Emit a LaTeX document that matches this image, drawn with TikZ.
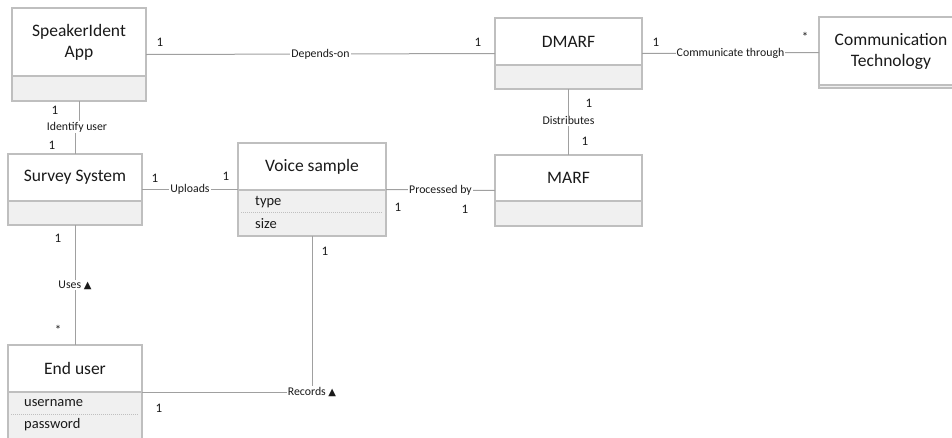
\documentclass[tikz,border=0pt]{standalone}
\usepackage{fontspec}
\setmainfont{Carlito}
\newfontfamily\symfont{DejaVu Sans}
\definecolor{boxc}{HTML}{BFBFBF}
\definecolor{compc}{HTML}{F0F0F0}
\definecolor{linec}{HTML}{A0A0A0}
\definecolor{txtc}{HTML}{1A1A1A}
\tikzset{
  umlbox/.style={draw=boxc, line width=1.2pt, fill=white, inner sep=0pt, outer sep=0pt},
  comp/.style={draw=boxc, line width=1.2pt, fill=compc},
  sep/.style={draw=boxc, line width=0.6pt, dash pattern=on 1pt off 1pt},
  title/.style={text=txtc, font=\fontsize{17.5}{21}\selectfont, align=center, inner sep=0pt},
  attr/.style={text=txtc, font=\fontsize{14.5}{15}\selectfont, anchor=west, inner sep=0pt},
  conn/.style={draw=linec, line width=1pt},
  lab/.style={text=txtc, font=\fontsize{11.8}{13}\selectfont, fill=white, inner sep=1pt},
  mult/.style={text=txtc, font=\fontsize{13}{14}\selectfont, inner sep=0pt},
}
\newcommand\tri{{\symfont\fontsize{10}{10}\selectfont ▲}}
\begin{document}
\begin{tikzpicture}[x=1pt,y=-1pt]
\useasboundingbox (0,0) rectangle (952,437);
\begin{scope}
\clip (0,0) rectangle (952,437);
% boxes
\node[umlbox, minimum width=134pt, minimum height=93pt] (sia) at (79,54.5) {};
\draw[comp] (12,76) rectangle (146,101);
\node[title] (siat) at (79,42.5) {SpeakerIdent\\App};

\node[umlbox, minimum width=147pt, minimum height=71pt] (dmarf) at (568.5,53.5) {};
\draw[comp] (495,65) rectangle (642,89);
\node[title] (dmarft) at (568.5,42) {DMARF};

\node[umlbox, minimum width=144pt, minimum height=71pt] (ct) at (891,52.5) {};
\draw[comp] (819,85) rectangle (963,88);
\node[title] (ctt) at (891,51.5) {Communication\\Technology};

\node[umlbox, minimum width=134pt, minimum height=71pt] (ss) at (75,189.5) {};
\draw[comp] (8,201) rectangle (142,225);
\node[title] (sst) at (75,177) {Survey System};

\node[umlbox, minimum width=148pt, minimum height=93pt] (vs) at (312,189.5) {};
\draw[comp] (238,190) rectangle (386,236);
\draw[sep] (241,212) -- (383,212);
\node[title] (vst) at (312,166.5) {Voice sample};
\node[attr] (vstype) at (255,202.5) {type};
\node[attr] (vssize) at (255,223.5) {size};

\node[umlbox, minimum width=147pt, minimum height=71pt] (marf) at (568.5,190.5) {};
\draw[comp] (495,201) rectangle (642,226);
\node[title] (marft) at (568.5,178) {MARF};

\node[umlbox, minimum width=134pt, minimum height=94pt] (eu) at (75,392) {};
\draw[comp] (8,392) rectangle (142,439);
\draw[sep] (11,414) -- (139,414);
\node[title] (eut) at (75,368) {End user};
\node[attr] (euu) at (24,403.5) {username};
\node[attr] (eup) at (24,424.5) {password};
\end{scope}

% connectors
\draw[conn] (sia.east) -- node[lab] {Depends-on} (dmarf.west);
\node[mult] at (160,42) {1};
\node[mult] at (478,42) {1};

\draw[conn] (dmarf.east) -- node[lab] {Communicate through} (ct.west);
\node[mult] at (656,42) {1};
\node[mult] at (805,37) {*};

\draw[conn] (sia.south) -- ++(0,26) coordinate (iu) -| (ss.north);
\node[lab] at (77,127) {Identify user};
\node[mult] at (55,110) {1};
\node[mult] at (52,145) {1};

\draw[conn] (dmarf.south) -- node[lab, pos=0.48] {Distributes} (marf.north);
\node[mult] at (589,103) {1};
\node[mult] at (585,141) {1};

\draw[conn] (ss.east) -- node[lab, pos=0.5] {Uploads} (vs.west);
\node[mult] at (155,178) {1};
\node[mult] at (226,176) {1};

\draw[conn] (vs.east) -- node[lab, pos=0.5] {Processed by} (marf.west);
\node[mult] at (398,207) {1};
\node[mult] at (465,209) {1};

\draw[conn] (ss.south) -- node[lab, pos=0.5] {Uses \tri} (eu.north);
\node[mult] at (58,238) {1};
\node[mult] at (58,330) {*};

\draw[conn] (eu.east) -| node[lab, pos=0.5] {Records \tri} (vs.south);
\node[mult] at (325,251) {1};
\node[mult] at (159,408) {1};
\end{tikzpicture}
\end{document}
